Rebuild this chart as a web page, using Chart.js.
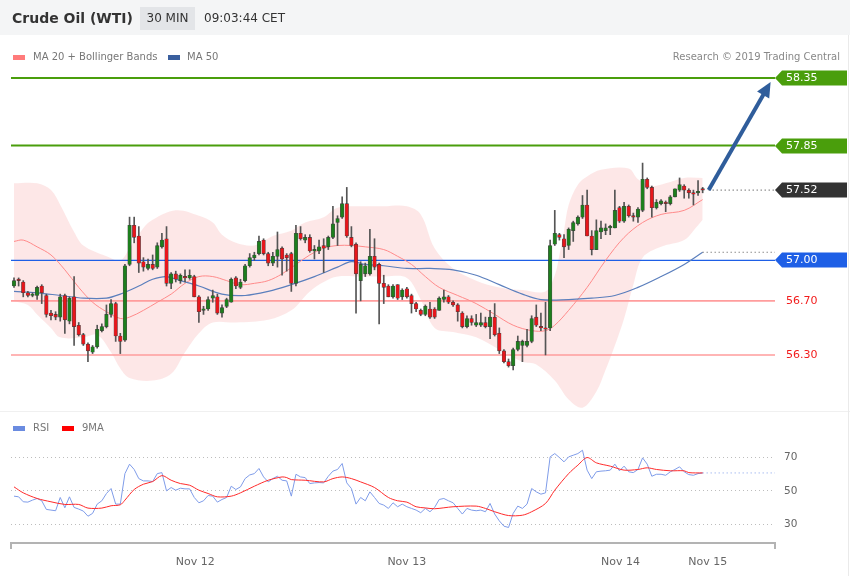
<!DOCTYPE html>
<html>
<head>
<meta charset="utf-8">
<script src="https://cdn.jsdelivr.net/npm/chart.js@4.4.1/dist/chart.umd.min.js"></script>
<style>
body { margin: 0; background: #fff; font-family: "DejaVu Sans", sans-serif; }
#wrap { position: relative; width: 850px; height: 576px; overflow: hidden; }
#hdr { position: absolute; left: 0; top: 0; width: 850px; height: 35px; background: #f4f5f6; }
#title { position: absolute; left: 12px; top: 10px; font-size: 14px; font-weight: bold; color: #333; line-height: 16px; }
#tf { position: absolute; left: 140px; top: 7px; width: 55px; height: 23px; background: #e3e5e8; font-size: 12px; color: #333; line-height: 23px; text-align: center; }
#time { position: absolute; left: 204px; top: 11px; font-size: 12px; color: #333; line-height: 14px; }
.lg { position: absolute; font-size: 10px; color: #777; line-height: 12px; white-space: nowrap; }
.sw { position: absolute; width: 12px; height: 5px; }
#sep { position: absolute; left: 0; top: 411px; width: 850px; height: 1px; background: #f0f0f0; }
#rb { position: absolute; left: 848px; top: 35px; width: 1px; height: 541px; background: #eaeaea; }
canvas { position: absolute; left: 0; top: 0; }
</style>
</head>
<body>
<div id="wrap">
  <canvas id="c" width="850" height="576"></canvas>
  <div id="hdr"></div>
  <div id="title">Crude Oil (WTI)</div>
  <div id="tf">30 MIN</div>
  <div id="time">09:03:44 CET</div>
  <div class="sw" style="left:13px;top:55px;background:#ff7b7b"></div>
  <div class="lg" style="left:33px;top:51px">MA 20 + Bollinger Bands</div>
  <div class="sw" style="left:168px;top:55px;background:#3a5f9e"></div>
  <div class="lg" style="left:187px;top:51px">MA 50</div>
  <div class="lg" style="right:10px;top:51px;color:#888">Research © 2019 Trading Central</div>
  <div id="sep"></div>
  <div id="rb"></div>
  <div class="sw" style="left:13px;top:426px;background:#6a8be0"></div>
  <div class="lg" style="left:33px;top:422px">RSI</div>
  <div class="sw" style="left:62px;top:426px;background:#ff0000"></div>
  <div class="lg" style="left:82px;top:422px">9MA</div>
</div>
<script>
// 30 min candles, index 0 = first bar on the left
const open = [56.81,56.86,56.84,56.76,56.74,56.74,56.81,56.74,56.61,56.60,
  56.58,56.74,56.55,56.73,56.52,56.45,56.38,56.32,56.36,56.48,
  56.51,56.60,56.68,56.44,56.41,56.97,57.26,57.18,56.99,56.94,
  56.97,56.95,57.10,57.16,56.83,56.90,56.85,56.88,56.87,56.88,
  56.73,56.63,56.64,56.72,56.73,56.61,56.66,56.69,56.87,56.80,
  56.85,56.96,57.02,57.05,57.15,57.05,56.98,57.03,57.09,57.04,
  57.05,56.83,57.20,57.15,57.17,57.07,57.07,57.11,57.10,57.17,
  57.28,57.32,57.42,57.17,57.12,56.85,56.90,56.90,57.03,56.97,
  56.83,56.81,56.73,56.82,56.73,56.79,56.74,56.68,56.63,56.60,
  56.64,56.64,56.63,56.71,56.73,56.69,56.67,56.61,56.51,56.57,
  56.52,56.52,56.54,56.51,56.58,56.46,56.33,56.25,56.22,56.34,
  56.37,56.37,56.40,56.58,56.51,56.50,56.50,57.12,57.19,57.16,
  57.11,57.22,57.27,57.32,57.41,57.18,57.08,57.21,57.22,57.24,
  57.24,57.39,57.29,57.40,57.33,57.32,57.37,57.60,57.54,57.39,
  57.42,57.43,57.42,57.47,57.52,57.55,57.52,57.50,57.50,57.53];
const high = [56.87,56.87,56.85,56.77,56.76,56.81,56.82,56.75,56.63,56.62,
  56.75,56.75,56.73,56.88,56.54,56.46,56.39,56.37,56.52,56.53,
  56.67,56.71,56.69,56.46,56.97,57.32,57.32,57.25,57.02,57.01,
  57.04,57.13,57.20,57.25,56.91,56.92,56.90,56.93,56.93,56.89,
  56.74,56.66,56.73,56.78,56.75,56.67,56.72,56.87,56.88,56.86,
  56.97,57.05,57.06,57.18,57.16,57.06,57.06,57.21,57.10,57.05,
  57.06,57.26,57.25,57.19,57.19,57.11,57.15,57.16,57.18,57.40,
  57.33,57.47,57.54,57.25,57.13,56.99,56.98,57.23,57.16,56.98,
  56.89,56.82,56.82,56.82,56.79,56.80,56.75,56.69,56.64,56.67,
  56.69,56.65,56.73,56.78,56.74,56.70,56.68,56.62,56.59,56.59,
  56.60,56.61,56.58,56.63,56.68,56.50,56.34,56.27,56.35,56.44,
  56.41,56.49,56.59,56.67,56.61,56.69,57.15,57.37,57.20,57.19,
  57.24,57.29,57.33,57.48,57.52,57.22,57.30,57.29,57.27,57.26,
  57.52,57.40,57.43,57.41,57.35,57.39,57.72,57.61,57.55,57.45,
  57.45,57.44,57.48,57.53,57.61,57.56,57.53,57.52,57.59,57.54];
const low = [56.80,56.81,56.73,56.73,56.73,56.71,56.68,56.58,56.56,56.56,
  56.55,56.46,56.53,56.37,56.44,56.37,56.25,56.31,56.35,56.47,
  56.50,56.58,56.40,56.31,56.40,56.96,57.13,56.91,56.92,56.93,
  56.93,56.94,57.09,56.81,56.79,56.84,56.83,56.84,56.86,56.73,
  56.54,56.60,56.63,56.69,56.60,56.58,56.65,56.69,56.79,56.79,
  56.84,56.95,57.00,57.04,57.04,56.96,56.96,56.95,56.89,56.92,
  56.77,56.81,57.15,57.13,57.06,57.01,57.05,56.91,57.08,57.16,
  57.11,57.31,57.17,57.10,56.61,56.70,56.88,56.89,56.93,56.53,
  56.68,56.73,56.72,56.71,56.71,56.72,56.61,56.62,56.59,56.59,
  56.57,56.57,56.63,56.69,56.68,56.66,56.55,56.50,56.50,56.52,
  56.51,56.51,56.50,56.42,56.44,56.31,56.24,56.21,56.19,56.33,
  56.25,56.36,56.39,56.51,56.48,56.30,56.48,57.11,57.15,57.02,
  57.08,57.14,57.26,57.31,57.18,57.04,57.08,57.16,57.19,57.19,
  57.24,57.28,57.28,57.32,57.29,57.28,57.36,57.53,57.32,57.38,
  57.41,57.36,57.41,57.47,57.51,57.46,57.46,57.41,57.48,57.50];
const close = [56.85,56.85,56.76,56.74,56.75,56.80,56.76,56.60,56.59,56.58,
  56.73,56.56,56.72,56.51,56.45,56.38,56.33,56.36,56.49,56.51,
  56.60,56.68,56.44,56.40,56.96,57.26,57.17,56.98,56.95,56.97,
  56.94,57.11,57.15,56.83,56.90,56.86,56.89,56.87,56.89,56.73,
  56.62,56.64,56.71,56.74,56.61,56.65,56.71,56.86,56.81,56.84,
  56.96,57.02,57.04,57.14,57.05,56.98,57.03,57.08,57.01,57.02,
  56.83,57.20,57.16,57.17,57.07,57.08,57.10,57.09,57.17,57.27,
  57.31,57.42,57.18,57.11,56.90,56.97,56.96,57.03,56.95,56.83,
  56.80,56.73,56.81,56.72,56.78,56.73,56.68,56.64,56.60,56.66,
  56.58,56.58,56.72,56.73,56.69,56.67,56.62,56.51,56.57,56.54,
  56.54,56.54,56.51,56.58,56.45,56.33,56.25,56.22,56.34,56.40,
  56.40,56.40,56.57,56.52,56.50,56.49,57.11,57.20,57.17,57.10,
  57.23,57.28,57.32,57.41,57.18,57.08,57.22,57.24,57.24,57.25,
  57.37,57.29,57.40,57.33,57.32,57.38,57.60,57.54,57.39,57.43,
  57.44,57.42,57.47,57.53,57.56,57.52,57.50,57.49,57.51,57.52];

// Bollinger bands and moving averages (bar index, price)
const upperIdx = [0,5,8,10,13,15,20,23,25,28,30,35,40,43,45,48,52,56,60,63,67,70,75,80,85,88,91,95,100,105,110,115,117,118,119,120,122,124,127,133,135,138,141,145,149];
const upper = [57.57,57.57,57.52,57.41,57.21,57.11,57.03,57.00,57.09,57.24,57.30,57.37,57.33,57.28,57.19,57.13,57.11,57.18,57.22,57.28,57.32,57.39,57.40,57.40,57.40,57.34,57.09,56.94,56.85,56.80,56.78,56.77,56.89,57.04,57.22,57.41,57.56,57.62,57.67,57.68,57.60,57.55,57.57,57.61,57.61];
const lowerIdx = [0,3,5,8,10,15,18,21,23,25,30,34,37,40,43,48,55,60,64,67,70,75,80,85,88,91,95,100,105,110,113,117,120,123,126,128,130,132,134,136,140,145,147,149];
const lower = [56.70,56.67,56.60,56.50,56.43,56.43,56.45,56.32,56.20,56.13,56.11,56.16,56.32,56.46,56.54,56.54,56.56,56.63,56.77,56.84,56.88,56.88,56.88,56.87,56.71,56.50,56.47,56.43,56.34,56.25,56.23,56.11,55.97,55.91,56.03,56.19,56.37,56.57,56.82,57.02,57.10,57.15,57.22,57.30];
const ma20Idx = [0,2,5,8,11,14,17,20,23,25,28,31,34,37,40,43,46,49,52,55,58,61,64,67,70,73,76,80,83,86,89,92,96,100,104,108,112,115,117,120,124,128,132,136,140,145,149];
const ma20 = [57.14,57.15,57.10,57.04,56.93,56.80,56.69,56.62,56.57,56.58,56.63,56.69,56.75,56.83,56.88,56.88,56.85,56.82,56.83,56.85,56.90,56.97,57.04,57.09,57.11,57.11,57.10,57.08,57.03,56.97,56.88,56.80,56.74,56.68,56.60,56.52,56.48,56.48,56.52,56.63,56.80,57.00,57.17,57.28,57.34,57.37,57.45];
const ma50Idx = [0,5,10,15,20,23,27,30,33,36,40,45,50,55,60,65,70,73,76,80,85,90,95,100,105,110,114,120,125,130,135,140,145,149];
const ma50 = [56.77,56.76,56.74,56.72,56.72,56.75,56.81,56.86,56.88,56.85,56.81,56.75,56.74,56.77,56.82,56.88,56.95,56.99,56.97,56.96,56.94,56.94,56.93,56.89,56.82,56.75,56.71,56.71,56.72,56.74,56.80,56.88,56.97,57.06];

// RSI per bar and its 9 period average
const rsi = [46.8,46.4,43.4,43.2,44.4,45.4,44.0,38.8,38.4,38.0,
  46.0,39.8,46.4,40.0,39.0,37.8,34.7,36.4,42.0,44.0,
  48.4,51.4,42.0,42.0,60.4,66.1,62.9,57.4,56.0,56.0,
  55.6,60.4,61.0,50.0,52.0,50.4,51.6,51.2,51.2,46.0,
  42.8,44.0,47.2,46.8,43.2,44.8,46.0,52.8,50.8,52.4,
  57.4,59.6,60.4,63.5,58.4,55.4,57.4,58.8,56.4,56.0,
  46.8,60.0,58.4,58.0,54.4,54.8,55.0,54.8,58.8,61.9,
  62.9,66.5,54.8,51.4,42.0,46.0,44.0,49.4,46.0,42.4,
  41.4,39.4,42.8,40.4,42.0,40.4,39.4,38.4,36.8,39.4,
  37.4,40.0,44.8,45.4,44.0,42.8,39.4,36.0,39.4,38.4,
  38.0,38.4,37.4,42.4,36.0,31.9,28.7,27.9,36.4,40.8,
  39.4,42.0,51.4,49.4,48.0,48.8,70.5,72.5,70.1,67.5,
  70.5,71.5,72.5,74.5,62.5,57.4,61.5,61.9,62.1,62.5,
  66.1,62.1,64.9,61.5,61.0,62.9,69.9,66.1,58.8,60.0,
  60.0,59.4,61.5,62.9,64.5,61.5,59.8,59.4,60.4,60.8];
const ma9Idx = [0,2,5,8,11,14,16,19,21,23,24,26,28,30,32,34,36,38,40,42,44,47,49,52,55,58,59,60,63,67,69,71,73,75,78,81,83,85,87,89,91,95,100,102,104,107,110,112,115,117,120,122,124,126,129,132,135,137,139,142,145,146,149];
const ma9 = [52.4,48.8,45.4,43.4,41.8,41.8,39.6,39.6,41.0,41.6,44.4,50.8,54.0,55.6,59.2,56.4,54.4,53.4,50.4,48.4,46.4,46.8,48.8,52.8,56.4,58.4,58.0,56.8,56.4,55.4,57.4,58.4,57.4,55.4,52.0,46.0,44.0,43.2,40.4,39.7,39.2,40.4,40.8,39.4,37.4,35.1,35.3,37.4,42.4,50.4,60.4,65.5,70.1,66.9,64.9,62.5,62.9,63.9,62.9,62.1,62.1,61.0,60.8];

// key levels, labelled tags and target arrow
const levels = [58.35, 57.85, 57.00, 56.70, 56.30];
const tagVals = [58.35, 57.85, 57.52, 57.00];
const plainVals = [56.70, 56.30];
const arrowX = [150.3, 163.7];
const arrowY = [57.52, 58.32];

const xTickPos = [39.2, 85.0, 131.2, 150.1];
const xTickLabels = ['Nov 12', 'Nov 13', 'Nov 14', 'Nov 15'];

const xMin = -0.65, xMax = 164.65;
const last = close.length - 1;

Chart.defaults.font.family = '"DejaVu Sans", sans-serif';

function pts(idx, vals) {
    return idx.map((x, k) => ({ x: x, y: vals[k] }));
}
function hline(x0, v) {
    return [{ x: x0, y: v }, { x: xMax, y: v }];
}

var levelColors = ['#4a9e0c', '#4a9e0c', '#1e5fe6', '#ff9d9d', '#ff9d9d'];
var levelWidths = [2, 2, 1.4, 1.6, 1.6];

var datasets = [
    { type: 'line', data: pts(upperIdx, upper), borderWidth: 0, pointRadius: 0, tension: 0.35,
      fill: '+1', backgroundColor: 'rgba(252,208,208,0.5)', order: 10 },
    { type: 'line', data: pts(lowerIdx, lower), borderWidth: 0, pointRadius: 0, tension: 0.35,
      fill: false, order: 10 }
];
levels.forEach(function (v, k) {
    datasets.push({ type: 'line', data: hline(xMin, v), borderColor: levelColors[k],
        borderWidth: levelWidths[k], pointRadius: 0, order: 9 });
});
datasets.push(
    { type: 'line', data: pts(ma50Idx, ma50), borderColor: '#5b7fbd', borderWidth: 1.2, pointRadius: 0, tension: 0.35, order: 8 },
    { type: 'line', data: pts(ma20Idx, ma20), borderColor: '#ff8a8a', borderWidth: 1, pointRadius: 0, tension: 0.35, order: 8 },
    { type: 'line', data: hline(last, ma50[ma50.length - 1]), borderColor: '#555', borderWidth: 1, borderDash: [1, 3], pointRadius: 0, order: 7 },
    { type: 'line', data: hline(last + 1.3, close[last]), borderColor: '#333', borderWidth: 1, borderDash: [1, 3], pointRadius: 0, order: 7 },
    { type: 'bar', data: close.map((c, i) => ({ x: i, y: [low[i], high[i]] })), backgroundColor: '#555',
      barThickness: 1, grouped: false, order: 4 },
    { type: 'bar', data: close.map((c, i) => ({ x: i, y: [open[i], c] })),
      backgroundColor: close.map((c, i) => c >= open[i] ? '#1d7f1d' : '#e8161b'),
      borderColor: 'rgba(50,50,50,0.85)', borderWidth: 0.6, borderSkipped: false,
      barThickness: 3.6, minBarLength: 1.5, grouped: false, order: 3 },
    { type: 'line', yAxisID: 'rsi', data: rsi.map((v, i) => ({ x: i, y: v })), borderColor: '#7f9ce9', borderWidth: 1, pointRadius: 0, order: 2 },
    { type: 'line', yAxisID: 'rsi', data: pts(ma9Idx, ma9), borderColor: '#ff2a2a', borderWidth: 1, pointRadius: 0, tension: 0.3, order: 1 },
    { type: 'line', yAxisID: 'rsi', data: hline(last, rsi[last]), borderColor: '#7f9ce9', borderWidth: 1, borderDash: [1, 3], pointRadius: 0, order: 1 }
);

const overlay = {
    id: 'overlay',
    afterDatasetsDraw(chart) {
        const { ctx, scales } = chart;
        const x0 = scales.x.getPixelForValue(arrowX[0]), y0 = scales.y.getPixelForValue(arrowY[0]);
        const x1 = scales.x.getPixelForValue(arrowX[1]), y1 = scales.y.getPixelForValue(arrowY[1]);
        const a = Math.atan2(y1 - y0, x1 - x0);
        ctx.save();
        ctx.strokeStyle = '#2f5d9b';
        ctx.fillStyle = '#2f5d9b';
        ctx.lineWidth = 4;
        ctx.beginPath();
        ctx.moveTo(x0, y0);
        ctx.lineTo(x1 - 10 * Math.cos(a), y1 - 10 * Math.sin(a));
        ctx.stroke();
        ctx.beginPath();
        ctx.moveTo(x1, y1);
        ctx.lineTo(x1 - 15 * Math.cos(a) + 7 * Math.sin(a), y1 - 15 * Math.sin(a) - 7 * Math.cos(a));
        ctx.lineTo(x1 - 15 * Math.cos(a) - 7 * Math.sin(a), y1 - 15 * Math.sin(a) + 7 * Math.cos(a));
        ctx.closePath();
        ctx.fill();
        ctx.restore();
    },
    afterDraw(chart) {
        const { ctx, chartArea, scales } = chart;
        const r = chartArea.right;
        const fills = ['#4a9e0c', '#4a9e0c', '#333333', '#1e5fe6'];
        ctx.save();
        ctx.font = '11px "DejaVu Sans"';
        ctx.textBaseline = 'middle';
        tagVals.forEach(function (v, k) {
            const y = Math.round(scales.y.getPixelForValue(v));
            ctx.fillStyle = fills[k];
            ctx.beginPath();
            ctx.moveTo(r, y);
            ctx.lineTo(r + 7, y - 7.5);
            ctx.lineTo(847, y - 7.5);
            ctx.lineTo(847, y + 7.5);
            ctx.lineTo(r + 7, y + 7.5);
            ctx.closePath();
            ctx.fill();
            ctx.fillStyle = '#fff';
            ctx.fillText(v.toFixed(2), r + 11, y + 0.5);
        });
        plainVals.forEach(function (v) {
            const y = Math.round(scales.y.getPixelForValue(v));
            ctx.fillStyle = '#f21c1c';
            ctx.fillText(v.toFixed(2), r + 11, y + 0.5);
        });
        // small end ticks on the time axis
        ctx.strokeStyle = '#b3b3b3';
        ctx.lineWidth = 2;
        [chartArea.left, r].forEach(function (x) {
            ctx.beginPath();
            ctx.moveTo(x, chartArea.bottom);
            ctx.lineTo(x, chartArea.bottom + 6);
            ctx.stroke();
        });
        ctx.restore();
    }
};

new Chart(document.getElementById('c'), {
    type: 'bar',
    data: { datasets: datasets },
    options: {
        responsive: false,
        animation: false,
        events: [],
        layout: { padding: { left: 11, top: 65, right: 0, bottom: 0 } },
        plugins: { legend: { display: false }, tooltip: { enabled: false } },
        scales: {
            x: {
                type: 'linear', min: xMin, max: xMax, offset: false,
                grid: { display: false },
                border: { display: true, color: '#b3b3b3', width: 2 },
                afterBuildTicks: function (s) { s.ticks = xTickPos.map(v => ({ value: v })); },
                afterFit: function (s) { s.height = 33; },
                ticks: {
                    autoSkip: false, maxRotation: 0, padding: 5, color: '#666',
                    font: { size: 11 },
                    callback: function (v, i) { return xTickLabels[i]; }
                }
            },
            y: { display: false, min: 54.908, max: 58.446 },
            rsi: {
                axis: 'y', position: 'right', min: 18.54, max: 306.9,
                afterBuildTicks: function (s) { s.ticks = [30, 50, 70].map(v => ({ value: v })); },
                afterFit: function (s) { s.width = 75; },
                grid: { color: '#bdbdbd', drawTicks: false },
                border: { display: false, dash: [1, 3] },
                ticks: { padding: 9, color: '#666', font: { size: 10.5 } }
            }
        }
    },
    plugins: [overlay]
});
</script>
</body>
</html>
